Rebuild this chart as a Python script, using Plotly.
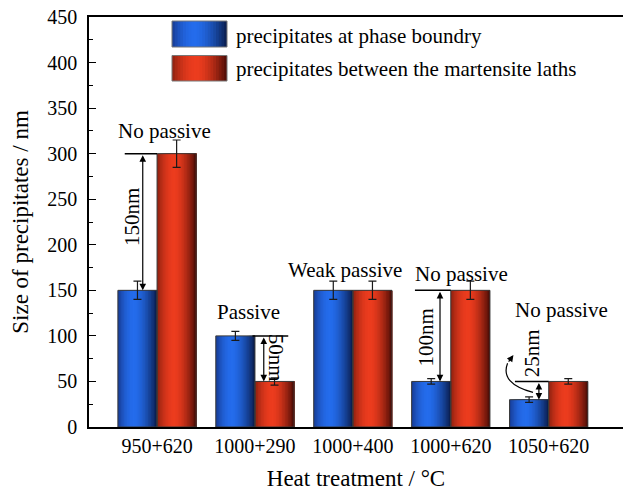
import plotly.graph_objects as go

categories = ["950+620", "1000+290", "1000+400", "1000+620", "1050+620"]
phase_boundary = [150, 100, 150, 50, 30]
phase_boundary_err = [10, 5, 10, 3, 3]
between_laths = [300, 50, 150, 150, 50]
between_laths_err = [15, 4, 10, 10, 3]
series_names = ["precipitates at phase boundry", "precipitates between the martensite laths"]
y_ticks = [0, 50, 100, 150, 200, 250, 300, 350, 400, 450]

FONT = "Liberation Serif, serif"
xs = list(range(len(categories)))

W, H = 623, 491
ML, MR, MT, MB = 89, 0, 17, 64

def lerp(c1, c2, f):
    return tuple(int(round(a + (b - a) * f)) for a, b in zip(c1, c2))

def grad_color(t, left, peak, right, tpk):
    if t <= tpk:
        f = t / tpk
        f = 1 - (1 - f) ** 2
        c = lerp(left, peak, f)
    else:
        f = (t - tpk) / (1 - tpk)
        f = f ** 1.6
        c = lerp(peak, right, f)
    return "rgb(%d,%d,%d)" % c

BLUE = ((22, 58, 146), (36, 108, 236), (10, 28, 74), 0.42)
RED = ((140, 32, 16), (236, 60, 30), (74, 12, 6), 0.45)

BW = 0.4
N = 26
fig = go.Figure()

def add_gradient_bars(vals, offset0, pal):
    dw = BW / N
    for i in range(N):
        t = (i + 0.5) / N
        fig.add_trace(go.Bar(
            x=xs, y=vals, offset=offset0 + i * dw, width=BW - i * dw,
            marker=dict(color=grad_color(t, *pal), line=dict(width=0)),
            showlegend=False, hoverinfo="skip"))

def add_outline(vals, errs, offset0, name):
    fig.add_trace(go.Bar(
        x=xs, y=vals, offset=offset0, width=BW, name=name,
        marker=dict(color="rgba(0,0,0,0)", line=dict(color="#3a3a3a", width=1)),
        error_y=dict(type="data", array=errs, color="#1a1a1a", thickness=1.2, width=4),
        showlegend=False))

add_gradient_bars(phase_boundary, -BW, BLUE)
add_gradient_bars(between_laths, 0.0, RED)
add_outline(phase_boundary, phase_boundary_err, -BW, series_names[0])
add_outline(between_laths, between_laths_err, 0.0, series_names[1])

shapes = []
annotations = []

# ---- legend (manual, gradient swatches) ----
pw = W - ML - MR
ph = H - MT - MB
def px2paper(px, py):
    return (px - ML) / pw, (H - MB - py) / ph

def swatch(x0, y0, x1, y1, pal):
    n = 20
    for i in range(n):
        t = (i + 0.5) / n
        a = x0 + (x1 - x0) * i / n
        p0 = px2paper(a, y1)
        p1 = px2paper(x1, y0)
        shapes.append(dict(type="rect", xref="paper", yref="paper",
                           x0=p0[0], y0=p0[1], x1=p1[0], y1=p1[1],
                           fillcolor=grad_color(t, *pal), line=dict(width=0), layer="above"))
    p0 = px2paper(x0, y1)
    p1 = px2paper(x1, y0)
    shapes.append(dict(type="rect", xref="paper", yref="paper",
                       x0=p0[0], y0=p0[1], x1=p1[0], y1=p1[1],
                       fillcolor="rgba(0,0,0,0)", line=dict(color="#777", width=1), layer="above"))

swatch(172, 21, 227, 47, BLUE)
swatch(172, 55.5, 227, 81, RED)
for name, cy in zip(series_names, [36, 69]):
    px, py = px2paper(234, cy)
    annotations.append(dict(text=name, xref="paper", yref="paper", x=px, y=py,
                            xanchor="left", yanchor="middle", showarrow=False,
                            font=dict(family=FONT, size=21, color="black")))

# ---- annotations on bars ----
def text(t, x, y, angle=0):
    annotations.append(dict(text=t, x=x, y=y, xref="x", yref="y", showarrow=False,
                            textangle=angle, xanchor="center", yanchor="middle",
                            font=dict(family=FONT, size=21, color="black")))

def hline(x0, x1, y):
    shapes.append(dict(type="line", xref="x", yref="y", x0=x0, x1=x1, y0=y, y1=y,
                       line=dict(color="black", width=1.5)))

def dbl_arrow(x, y0, y1):
    annotations.append(dict(x=x, y=y1, ax=x, ay=y0, xref="x", yref="y", axref="x", ayref="y",
                            text="", showarrow=True, arrowside="end+start", arrowhead=2,
                            arrowsize=1.1, arrowwidth=1.2, arrowcolor="black",
                            standoff=0, startstandoff=0))

# 950+620
text("No passive", 0.08, 325)
hline(-0.33, 0.0, between_laths[0])
dbl_arrow(-0.146, between_laths[0], phase_boundary[0])
text("150nm", -0.25, 230, -90)
# 1000+290
text("Passive", 0.93, 126)
hline(1 - 0.025, 1.34, phase_boundary[1])
dbl_arrow(1.09, phase_boundary[1], between_laths[1])
text("50nm", 1.215, 76, 90)
# 1000+400
text("Weak passive", 1.92, 172)
# 1000+620
text("No passive", 3.11, 168)
hline(3 - 0.366, 3.0, between_laths[3])
dbl_arrow(2.89, between_laths[3], phase_boundary[3])
text("100nm", 2.745, 98, -90)
# 1050+620
text("No passive", 4.13, 128)
hline(4 - 0.345, 4.0, between_laths[4])
dbl_arrow(3.9, between_laths[4], phase_boundary[4])
text("25nm", 3.83, 81, -90)
shapes.append(dict(type="path", xref="x", yref="y",
                   path="M 3.84,38 Q 3.50,48 3.58,70",
                   line=dict(color="black", width=1.2)))
annotations.append(dict(x=3.64, y=79, ax=3.58, ay=70, xref="x", yref="y", axref="x", ayref="y",
                        text="", showarrow=True, arrowhead=2, arrowsize=1.1, arrowwidth=1.2,
                        arrowcolor="black", standoff=0))

fig.update_layout(
    width=W, height=H, barmode="overlay",
    margin=dict(l=ML, r=MR, t=MT, b=MB),
    paper_bgcolor="white", plot_bgcolor="white",
    font=dict(family=FONT, color="black"),
    shapes=shapes, annotations=annotations, showlegend=False,
    xaxis=dict(range=[-0.695, 4.759], tickvals=xs, ticktext=categories, ticks="",
               showline=True, linecolor="black", linewidth=1.5, mirror=True,
               showgrid=False, zeroline=False, tickfont=dict(family=FONT, size=20),
               title=dict(text="Heat treatment / °C", font=dict(family=FONT, size=23), standoff=15)),
    yaxis=dict(range=[0, 450], tickvals=y_ticks, ticks="inside", ticklen=7, tickwidth=1.2,
               tickcolor="black", showline=True, linecolor="black", linewidth=1.5,
               showgrid=False, zeroline=False, tickfont=dict(family=FONT, size=20),
               minor=dict(ticks="inside", ticklen=4, dtick=25, tickcolor="black", tickwidth=1.2),
               ticklabelstandoff=6,
               title=dict(text="Size of precipitates / nm", font=dict(family=FONT, size=23), standoff=12)),
)

fig.write_html("out.html")
